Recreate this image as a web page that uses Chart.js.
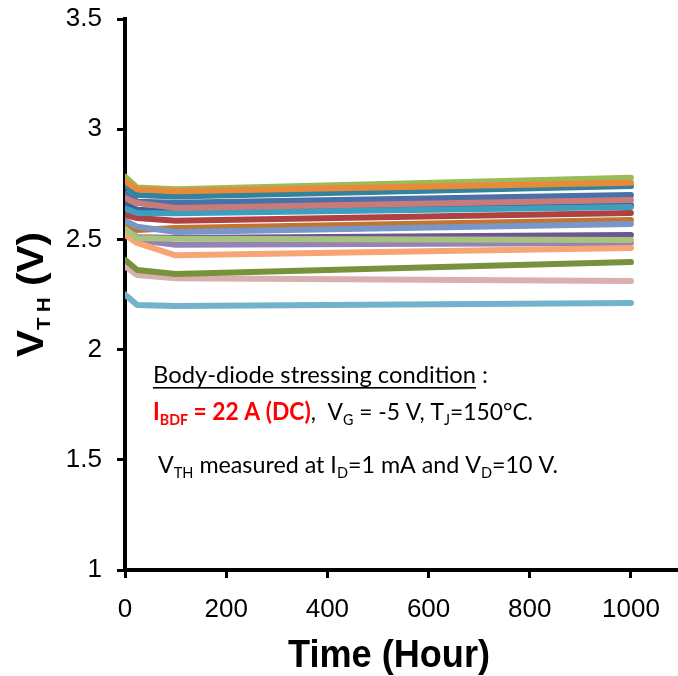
<!DOCTYPE html>
<html>
<head>
<meta charset="utf-8">
<script src="https://cdn.jsdelivr.net/npm/chart.js@4/dist/chart.umd.min.js"></script>
<style>
html,body{margin:0;padding:0;background:#fff;overflow:hidden;}
#wrap{width:678px;height:676px;position:relative;}
</style>
</head>
<body>
<div id="wrap"><canvas id="c" width="678" height="676"></canvas></div>
<script>
// ---- data ----
const hours = [0, 24, 100, 1000];
const xTickValues = [0, 200, 400, 600, 800, 1000];
const yTickValues = [1, 1.5, 2, 2.5, 3, 3.5];

const vthOrange     = [2.765, 2.727, 2.719, 2.757];
const vthRose       = [2.688, 2.665, 2.643, 2.679];
const vthTeal2      = [2.640, 2.620, 2.619, 2.647];
const vthRed        = [2.611, 2.597, 2.585, 2.620];
const vthBlueLight  = [2.585, 2.558, 2.534, 2.570];
const vthGreenLight = [2.548, 2.506, 2.503, 2.497];
const vthSalmon     = [2.520, 2.484, 2.428, 2.461];
const vthOlive      = [2.407, 2.361, 2.343, 2.397];
const vthPink       = [2.378, 2.338, 2.324, 2.311];
const vthLightBlue  = [2.250, 2.202, 2.198, 2.211];
const vthTealDark   = [2.745, 2.701, 2.695, 2.742];
const vthSteelBlue  = [2.710, 2.671, 2.666, 2.701];
const vthDarkBlue   = [2.660, 2.635, 2.625, 2.656];
const vthOrangeThin = [2.560, 2.543, 2.552, 2.588];
const vthPurpleDark = [2.545, 2.510, 2.506, 2.520];
const vthPurple     = [2.535, 2.497, 2.476, 2.484];
const vthGreenTop   = [2.785, 2.735, 2.728, 2.780];

// ---- styles ----
const seriesList = [
  [vthOrange, '#E98A3A'],
  [vthRose, '#C97B7A'],
  [vthTeal2, '#3E9EBD'],
  [vthRed, '#AE4141'],
  [vthBlueLight, '#7897C8'],
  [vthGreenLight, '#A8C37E'],
  [vthSalmon, '#F7A574'],
  [vthOlive, '#77923B'],
  [vthPink, '#D9B0B0'],
  [vthLightBlue, '#72B2CA'],
  [vthTealDark, '#31849B'],
  [vthSteelBlue, '#4A70A8'],
  [vthDarkBlue, '#3F5F96'],
  [vthOrangeThin, '#C27530'],
  [vthPurpleDark, '#6E5693'],
  [vthPurple, '#9583B8'],
  [vthGreenTop, '#9BBB59']
];

const datasets = seriesList.map(([vals, col]) => ({
  data: hours.map((h, i) => ({x: h, y: vals[i]})),
  borderColor: col,
  backgroundColor: col,
  borderWidth: 6,
  pointRadius: 0,
  tension: 0,
  borderCapStyle: 'round',
  borderJoinStyle: 'round',
  fill: false
}));

function drawRich(ctx, x, y, targetW, segs) {
  let total = 0;
  const widths = segs.map(s => {
    ctx.font = (s.bold ? 'bold ' : '') + s.size + 'px ' + s.family;
    const w = ctx.measureText(s.t).width;
    total += w;
    return w;
  });
  const sx = targetW / total;
  ctx.save();
  ctx.translate(x, y);
  ctx.scale(sx, 1);
  let cx = 0;
  segs.forEach((s, i) => {
    ctx.font = (s.bold ? 'bold ' : '') + s.size + 'px ' + s.family;
    ctx.fillStyle = s.color || '#000';
    ctx.textBaseline = 'alphabetic';
    ctx.textAlign = 'left';
    ctx.fillText(s.t, cx, s.dy || 0);
    if (s.underline) {
      ctx.fillStyle = '#000';
      ctx.fillRect(cx, 4, widths[i], 1.6);
    }
    cx += widths[i];
  });
  ctx.restore();
}

const textPlugin = {
  id: 'texts',
  afterDraw(chart) {
    const ctx = chart.ctx;
    const F = 'Lato, "Open Sans", sans-serif';
    const A = '"Liberation Sans", Arial, sans-serif';
    drawRich(ctx, 153, 383, 335, [
      {t: 'Body-diode stressing condition', size: 24, family: F, underline: true},
      {t: ' :', size: 24, family: F}
    ]);
    drawRich(ctx, 153, 420, 380, [
      {t: 'I', size: 24, family: F, bold: true, color: '#FF0000'},
      {t: 'BDF', size: 15, family: F, bold: true, color: '#FF0000', dy: 5},
      {t: ' = 22 A (DC)', size: 24, family: F, bold: true, color: '#FF0000'},
      {t: ',  V', size: 24, family: F},
      {t: 'G', size: 15, family: F, dy: 5},
      {t: ' = -5 V, T', size: 24, family: F},
      {t: 'J', size: 15, family: F, dy: 5},
      {t: '=150°C.', size: 24, family: F}
    ]);
    drawRich(ctx, 158, 473, 400, [
      {t: 'V', size: 24, family: F},
      {t: 'TH', size: 15, family: F, dy: 5},
      {t: ' measured at I', size: 24, family: F},
      {t: 'D', size: 15, family: F, dy: 5},
      {t: '=1 mA and V', size: 24, family: F},
      {t: 'D', size: 15, family: F, dy: 5},
      {t: '=10 V.', size: 24, family: F}
    ]);
    drawRich(ctx, 288, 667, 202, [
      {t: 'Time (Hour)', size: 38, family: A, bold: true}
    ]);
    ctx.save();
    ctx.translate(43, 357);
    ctx.rotate(-Math.PI / 2);
    drawRich(ctx, 0, 0, 125, [
      {t: 'V', size: 36, family: A, bold: true},
      {t: 'T H', size: 18, family: A, bold: true, dy: 7},
      {t: ' (V)', size: 36, family: A, bold: true}
    ]);
    ctx.restore();
  }
};

new Chart(document.getElementById('c'), {
  type: 'line',
  data: {datasets},
  options: {
    responsive: false,
    animation: false,
    events: [],
    layout: {padding: {top: 19, right: 0, bottom: 0, left: 0}},
    plugins: {legend: {display: false}, tooltip: {enabled: false}},
    scales: {
      x: {
        type: 'linear',
        min: 0,
        max: 1093,
        afterBuildTicks(scale) { scale.ticks = xTickValues.map(v => ({value: v})); },
        afterFit(scale) { scale.height = 106; scale.paddingLeft = 0; scale.paddingRight = 0; },
        border: {display: true, color: '#000', width: 4},
        grid: {display: true, drawOnChartArea: false, drawTicks: true, tickLength: 8, color: '#000', lineWidth: 3},
        ticks: {
          color: '#000',
          padding: 16,
          maxRotation: 0,
          autoSkip: false,
          font: {family: '"Liberation Sans", Arial', size: 26},
          callback: v => String(v)
        }
      },
      y: {
        type: 'linear',
        min: 1,
        max: 3.5,
        afterBuildTicks(scale) { scale.ticks = yTickValues.map(v => ({value: v})); },
        afterFit(scale) { scale.width = 125; scale.paddingTop = 0; scale.paddingBottom = 0; },
        border: {display: true, color: '#000', width: 4},
        grid: {display: true, drawOnChartArea: false, drawTicks: true, tickLength: 8, color: '#000', lineWidth: 3},
        ticks: {
          color: '#000',
          padding: 15,
          autoSkip: false,
          font: {family: '"Liberation Sans", Arial', size: 26},
          callback: v => String(v)
        }
      }
    }
  },
  plugins: [textPlugin]
});
</script>
</body>
</html>
